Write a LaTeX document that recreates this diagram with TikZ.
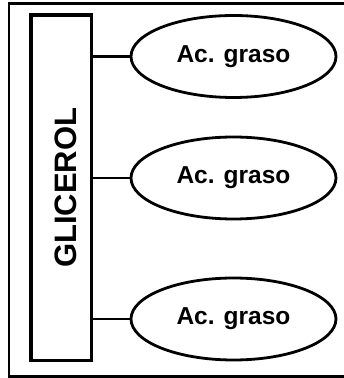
\documentclass[tikz,border=0pt]{standalone}
\usepackage{fontspec}
\setmainfont{Liberation Sans}
\usetikzlibrary{shapes.geometric}

\begin{document}
\begin{tikzpicture}[x=1pt, y=1pt,
    acid/.style={draw, line width=2.8pt, ellipse, minimum width=205pt, minimum height=82pt, inner sep=0pt, font=\fontsize{24.5}{28}\selectfont\bfseries},
    backbone/.style={draw, line width=3.2pt, rectangle, minimum width=60.7pt, minimum height=345.7pt, inner sep=0pt},
    bond/.style={line width=2.4pt}]
    \useasboundingbox (0,0) rectangle (344,378);
    % Outer frame (right side runs off the page)
    \draw[line width=2.2pt] (9,1.5) rectangle (346,374.5);

    % Glycerol backbone
    \node[backbone] (glicerol) at (61.3,190.2) {};
    \node[rotate=90, inner sep=0pt, font=\fontsize{31}{36}\selectfont\bfseries] (glicerol text) at (65.6,190.2) {GLICEROL};

    % Fatty acids
    \node[acid] (ac1) at (233.5,321.5) {Ac. graso};
    \node[acid] (ac2) at (233.5,200) {Ac. graso};
    \node[acid] (ac3) at (233.5,59) {Ac. graso};

    % Ester bonds
    \draw[bond] (glicerol.east |- ac1.west) -- (ac1.west);
    \draw[bond] (glicerol.east |- ac2.west) -- (ac2.west);
    \draw[bond] (glicerol.east |- ac3.west) -- (ac3.west);
\end{tikzpicture}
\end{document}
